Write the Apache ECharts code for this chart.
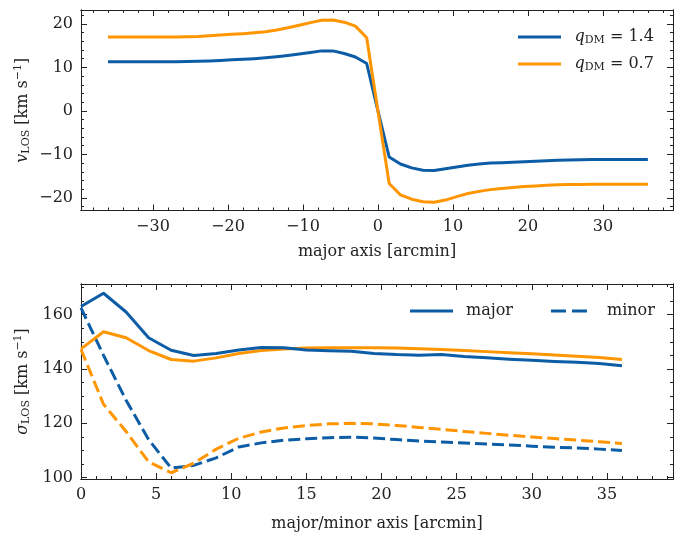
<!DOCTYPE html>
<html>
<head>
<meta charset="utf-8">
<script src="https://cdn.jsdelivr.net/npm/echarts@6/dist/echarts.min.js"></script>
<style>html,body{margin:0;padding:0;background:#fff;}#c{width:675px;height:533px;}</style>
</head>
<body>
<div id="c"></div>
<script>
// ---------- data ----------
const xTop = [-36,-34.5,-33,-31.5,-30,-28.5,-27,-25.5,-24,-22.5,-21,-19.5,-18,-16.5,-15,-13.5,-12,-10.5,-9,-7.5,-6,-4.5,-3,-1.5,0,
  1.5,3,4.5,6,7.5,9,10.5,12,13.5,15,16.5,18,19.5,21,22.5,24,25.5,27,28.5,30,31.5,33,34.5,36];
const vLos14 = [11.3,11.3,11.3,11.3,11.3,11.3,11.3,11.35,11.4,11.5,11.6,11.75,11.85,12.0,12.2,12.45,12.75,13.1,13.45,13.8,13.8,13.2,12.4,10.9,0,
  -10.6,-12.2,-13.1,-13.65,-13.7,-13.3,-12.9,-12.5,-12.2,-12.0,-11.9,-11.8,-11.7,-11.55,-11.45,-11.35,-11.3,-11.25,-11.2,-11.2,-11.2,-11.2,-11.2,-11.2];
const vLos07 = [17.0,17.0,17.0,17.0,17.0,17.0,17.0,17.05,17.1,17.3,17.45,17.6,17.75,17.95,18.2,18.6,19.1,19.7,20.3,20.85,20.9,20.4,19.5,16.8,0,
  -16.7,-19.3,-20.3,-20.9,-21.0,-20.5,-19.7,-19.0,-18.5,-18.1,-17.85,-17.6,-17.4,-17.25,-17.1,-17.0,-16.95,-16.9,-16.85,-16.85,-16.85,-16.85,-16.85,-16.85];

const xBot = [0,1.5,3,4.5,6,7.5,9,10.5,12,13.5,15,16.5,18,19.5,21,22.5,24,25.5,27,28.5,30,31.5,33,34.5,36];
const sigMajor14 = [163.0,167.9,161.0,151.5,146.9,145.0,145.7,147.0,147.9,147.8,147.0,146.7,146.5,145.7,145.3,145.1,145.3,144.6,144.1,143.6,143.2,142.8,142.5,142.0,141.2];
const sigMajor07 = [147.4,153.7,151.5,146.8,143.5,142.9,144.1,145.7,146.8,147.4,147.7,147.8,147.8,147.8,147.7,147.5,147.2,146.8,146.4,146.0,145.6,145.2,144.7,144.2,143.5];
const sigMinor14 = [162.5,145.0,128.5,114.0,103.5,104.5,107.3,111.3,112.8,113.8,114.3,114.7,114.9,114.6,114.0,113.5,113.1,112.8,112.4,112.0,111.6,111.2,110.9,110.5,110.0];
const sigMinor07 = [147.2,127.0,117.0,105.8,101.8,105.3,110.5,114.5,116.8,118.3,119.2,119.8,120.0,119.8,119.2,118.5,117.8,117.0,116.3,115.6,115.0,114.4,113.8,113.2,112.6];

const topXMajor = [-30,-20,-10,0,10,20,30];
const topXMinor = [-38,-36,-34,-32,-28,-26,-24,-22,-18,-16,-14,-12,-8,-6,-4,-2,2,4,6,8,12,14,16,18,22,24,26,28,32,34,36,38];
const topYMajor = [-20,-10,0,10,20];
const topYMinor = [-22,-18,-16,-14,-12,-8,-6,-4,-2,2,4,6,8,12,14,16,18,22];
const botXMajor = [0,5,10,15,20,25,30,35];
const botXMinor = [1,2,3,4,6,7,8,9,11,12,13,14,16,17,18,19,21,22,23,24,26,27,28,29,31,32,33,34,36,37,38,39];
const botYMajor = [100,120,140,160];
const botYMinor = [105,110,115,125,130,135,145,150,155,165,170];

// ---------- style ----------
const FONT = '"DejaVu Serif", "Liberation Serif", serif';
const FS = 16;
const INK = '#222';
const BLUE = '#0C5DA5';
const ORANGE = '#FF9500';
const LW = 3;
const DASH = [12, 5];
const SOLID_ICON = 'path://M0,0H43V3H0Z';
const DASH_ICON = 'path://M0,0H15V3H0Z M21,0H36V3H21Z M43,0H43V3H43Z';

const fmt = v => (v < 0 ? '\u2212' + (-v) : String(v));
const rich = {
  i: {fontFamily: FONT, fontSize: FS, fontStyle: 'italic', color: INK},
  sub: {fontFamily: FONT, fontSize: 11, color: INK, padding: [7, 0, 0, 0]},
  sup: {fontFamily: FONT, fontSize: 11, color: INK, padding: [0, 0, 8, 0]},
  t: {fontFamily: FONT, fontSize: FS, color: INK}
};

function axis(grid, pos, min, max, values, len, labels, extra) {
  const a = {
    type: 'value', gridIndex: grid, position: pos, min: min, max: max,
    axisLine: {show: true, onZero: false, lineStyle: {color: INK, width: 1}},
    axisTick: {show: true, inside: true, length: len, customValues: values, lineStyle: {color: INK, width: 1}},
    axisLabel: {show: labels, customValues: values, formatter: fmt, fontFamily: FONT, fontSize: FS, color: INK, margin: 8},
    splitLine: {show: false}, minorTick: {show: false}
  };
  return Object.assign(a, extra || {});
}
const nameStyle = {fontFamily: FONT, fontSize: FS, color: INK, rich: rich};

const xAxes = [
  axis(0, 'bottom', -39.6, 39.35, topXMajor, 6, true, {name: 'major axis [arcmin]', nameLocation: 'middle', nameGap: 33, nameTextStyle: nameStyle}),
  axis(0, 'bottom', -39.6, 39.35, topXMinor, 3, false),
  axis(0, 'top', -39.6, 39.35, topXMajor, 6, false),
  axis(0, 'top', -39.6, 39.35, topXMinor, 3, false),
  axis(1, 'bottom', 0, 39.4, botXMajor, 6, true, {name: 'major/minor axis [arcmin]', nameLocation: 'middle', nameGap: 37, nameTextStyle: nameStyle}),
  axis(1, 'bottom', 0, 39.4, botXMinor, 3, false),
  axis(1, 'top', 0, 39.4, botXMajor, 6, false),
  axis(1, 'top', 0, 39.4, botXMinor, 3, false)
];
const yAxes = [
  axis(0, 'left', -22.9, 23.2, topYMajor, 6, true, {name: '{i|v}{sub|LOS} [km s{sup|\u22121}]', nameLocation: 'middle', nameGap: 49,
    nameMoveOverlap: false, nameTextStyle: nameStyle}),
  axis(0, 'left', -22.9, 23.2, topYMinor, 3, false),
  axis(0, 'right', -22.9, 23.2, topYMajor, 6, false),
  axis(0, 'right', -22.9, 23.2, topYMinor, 3, false),
  axis(1, 'left', 99.5, 171.3, botYMajor, 6, true, {name: '{i|\u03c3}{sub|LOS} [km s{sup|\u22121}]', nameLocation: 'middle', nameGap: 49,
    nameMoveOverlap: false, nameTextStyle: nameStyle}),
  axis(1, 'left', 99.5, 171.3, botYMinor, 3, false),
  axis(1, 'right', 99.5, 171.3, botYMajor, 6, false),
  axis(1, 'right', 99.5, 171.3, botYMinor, 3, false)
];

function line(name, xs, ys, xi, yi, color, dashed) {
  return {
    name: name, type: 'line', xAxisIndex: xi, yAxisIndex: yi,
    data: xs.map((x, k) => [x, ys[k]]),
    showSymbol: false, symbol: 'none', animation: false, silent: true,
    lineStyle: {color: color, width: LW, type: dashed ? DASH : 'solid', cap: 'butt', join: 'round'},
    itemStyle: {color: color}
  };
}

const option = {
  backgroundColor: '#fff',
  animation: false,
  grid: [
    {left: 81, top: 10, width: 592, height: 200.5, containLabel: false},
    {left: 81, top: 284, width: 592, height: 196.5, containLabel: false}
  ],
  xAxis: xAxes,
  yAxis: yAxes,
  legend: [
    {
      data: [{name: 'q14', icon: SOLID_ICON}, {name: 'q07', icon: SOLID_ICON}],
      orient: 'vertical', left: 513, top: 24, itemWidth: 44, itemHeight: 3, itemGap: 10,
      selectedMode: false,
      formatter: n => (n === 'q14' ? '{i|q}{sub|DM}{t| = 1.4}' : '{i|q}{sub|DM}{t| = 0.7}'),
      textStyle: {fontFamily: FONT, fontSize: FS, color: INK, rich: rich, padding: [0, 0, 0, 8]}
    },
    {
      data: [{name: 'major', icon: SOLID_ICON}, {name: 'minor', icon: DASH_ICON}],
      orient: 'horizontal', left: 405, top: 298, itemWidth: 43, itemHeight: 3, itemGap: 38,
      selectedMode: false,
      textStyle: {fontFamily: FONT, fontSize: FS, color: INK, padding: [0, 0, 0, 8]}
    }
  ],
  series: [
    line('q14', xTop, vLos14, 0, 0, BLUE, false),
    line('q07', xTop, vLos07, 0, 0, ORANGE, false),
    line('minor', xBot, sigMinor14, 4, 4, BLUE, true),
    line('minor07', xBot, sigMinor07, 4, 4, ORANGE, true),
    line('major07', xBot, sigMajor07, 4, 4, ORANGE, false),
    line('major', xBot, sigMajor14, 4, 4, BLUE, false)
  ]
};
const chart = echarts.init(document.getElementById('c'), null, {renderer: 'canvas'});
chart.setOption(option);
</script>
</body>
</html>
